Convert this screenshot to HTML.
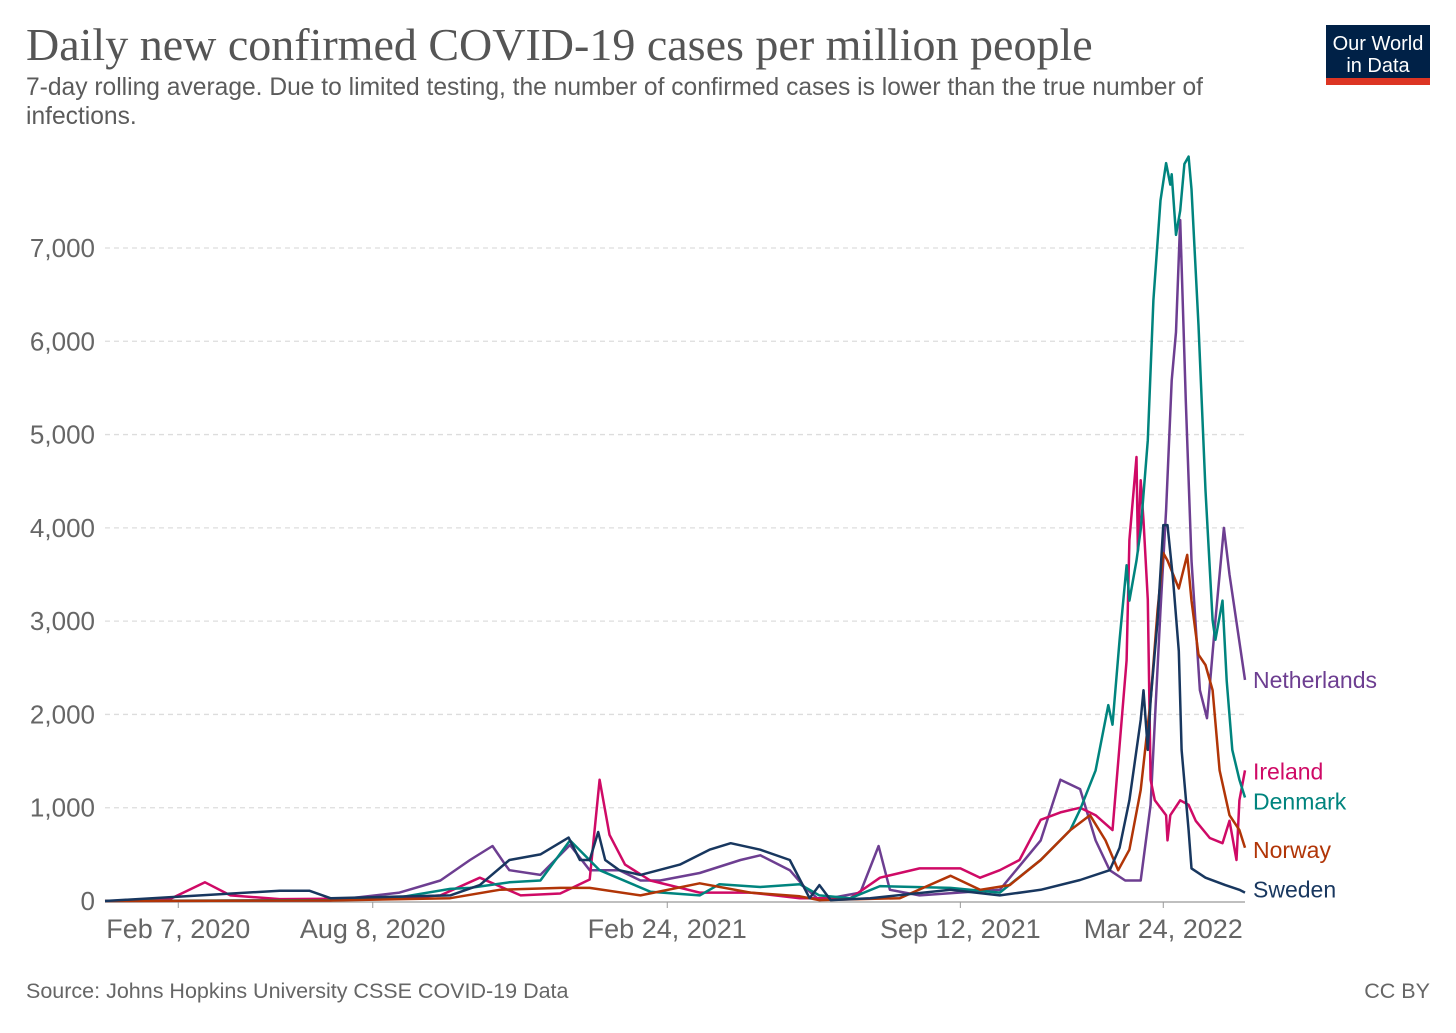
<!DOCTYPE html>
<html><head><meta charset="utf-8"><style>
body{margin:0;background:#fff;width:1456px;height:1028px;overflow:hidden;font-family:"Liberation Sans",sans-serif}
</style></head><body>
<svg width="1456" height="1028" viewBox="0 0 1456 1028" xmlns="http://www.w3.org/2000/svg">
<text x="26" y="60" font-family="Liberation Serif,serif" font-size="46" fill="#555">Daily new confirmed COVID-19 cases per million people</text>
<text x="26" y="95" font-size="24.6" fill="#5b5b5b">7-day rolling average. Due to limited testing, the number of confirmed cases is lower than the true number of</text>
<text x="26" y="124" font-size="24.6" fill="#5b5b5b">infections.</text>
<g>
<rect x="1326" y="25" width="104" height="60" fill="#002147"/>
<rect x="1326" y="78" width="104" height="7" fill="#dc3523"/>
<text x="1378" y="50" font-size="20" fill="#fff" text-anchor="middle">Our World</text>
<text x="1378" y="72" font-size="20" fill="#fff" text-anchor="middle">in Data</text>
</g>
<g id="grid"></g>
<g id="axes"></g>
<g id="series"></g>
<text x="26" y="998" font-size="21.5" fill="#666">Source: Johns Hopkins University CSSE COVID-19 Data</text>
<text x="1430" y="998" font-size="21.5" fill="#666" text-anchor="end">CC BY</text>
</svg>
<script>
const yTicks=[0,1000,2000,3000,4000,5000,6000,7000];
const yTickLabels=["0","1,000","2,000","3,000","4,000","5,000","6,000","7,000"];
const xTickDays=[52,190,399,607,751];
const xTickLabels=["Feb 7, 2020","Aug 8, 2020","Feb 24, 2021","Sep 12, 2021","Mar 24, 2022"];
const seriesNames=["Netherlands","Ireland","Denmark","Norway","Sweden"];
const netherlands=[[0,0],[160,5],[209,90],[238,220],[259,440],[275,590],[284,390],[287,330],[309,280],[330,600],[344,330],[365,330],[380,220],[394,220],[422,300],[451,440],[465,490],[486,330],[497,140],[507,10],[536,90],[549,590],[557,120],[578,60],[635,120],[664,650],[678,1300],[692,1200],[703,650],[713,330],[724,220],[735,220],[742,1030],[749,3120],[753,4190],[757,5580],[760,6100],[763,7300],[767,5360],[771,3650],[777,2260],[782,1960],[788,3010],[794,4000],[798,3500],[809,2370]];
const ireland=[[0,0],[46,20],[71,200],[89,60],[124,20],[209,30],[238,60],[266,250],[295,60],[323,80],[344,230],[351,1300],[358,710],[369,390],[387,220],[422,90],[458,90],[493,30],[529,30],[550,250],[578,350],[607,350],[621,250],[635,330],[649,440],[664,870],[678,950],[692,1000],[703,920],[715,760],[720,1670],[725,2580],[727,3870],[732,4760],[733,3750],[735,4510],[737,4080],[740,3230],[742,1300],[745,1080],[753,920],[754,650],[756,920],[763,1080],[769,1030],[774,860],[784,675],[793,620],[798,860],[803,440],[805,1080],[809,1400]];
const denmark=[[0,0],[160,10],[209,40],[245,130],[259,140],[287,200],[309,220],[330,650],[351,330],[387,100],[422,60],[436,180],[465,150],[493,180],[507,60],[529,30],[550,160],[600,140],[635,90],[664,440],[685,760],[692,980],[703,1400],[712,2100],[715,1890],[720,2800],[725,3600],[727,3220],[732,3650],[735,3980],[740,4940],[744,6440],[749,7510],[753,7910],[756,7680],[757,7790],[760,7140],[763,7400],[766,7900],[769,7980],[771,7630],[776,6170],[781,4400],[786,3010],[788,2800],[793,3220],[796,2360],[800,1620],[805,1300],[809,1110]];
const norway=[[0,0],[160,5],[245,30],[280,120],[323,140],[344,140],[380,60],[422,190],[458,90],[493,50],[507,10],[564,30],[600,270],[621,120],[642,170],[664,440],[685,760],[699,920],[710,650],[719,330],[727,550],[735,1190],[742,2150],[747,3120],[751,3730],[754,3650],[757,3540],[762,3350],[768,3710],[771,3220],[776,2640],[781,2530],[786,2260],[791,1400],[798,920],[805,760],[809,570]];
const sweden=[[0,0],[124,110],[145,110],[160,30],[245,60],[266,170],[287,440],[309,500],[329,680],[337,440],[344,440],[350,740],[355,440],[365,330],[380,280],[408,390],[429,550],[444,620],[465,550],[486,440],[500,30],[507,170],[515,10],[543,30],[600,120],[635,60],[664,120],[692,225],[713,330],[720,570],[727,1080],[735,1940],[737,2260],[740,1620],[742,2150],[747,3010],[751,4030],[754,4030],[758,3440],[762,2680],[764,1620],[769,760],[771,350],[781,250],[795,170],[805,120],[809,90]];
const allSeries=[netherlands,ireland,denmark,norway,sweden];
const colors=["#6D3E91","#CF0A66","#00847E","#B13507","#18375F"];
const labelYOffset=[0,1,4,2,-3];

const X0=105,X1=1245,Y0=901,Y7=248,DMAX=809;
const xs=d=>X0+(d/DMAX)*(X1-X0);
const ys=v=>Y0-(v/7000)*(Y0-Y7);
const NS="http://www.w3.org/2000/svg";
const grid=document.getElementById('grid'),axes=document.getElementById('axes'),ser=document.getElementById('series');
function mk(tag,attrs,parent){const e=document.createElementNS(NS,tag);for(const k in attrs)e.setAttribute(k,attrs[k]);parent.appendChild(e);return e;}
yTicks.forEach((t,i)=>{
  if(t>0){const l=mk('line',{x1:X0,x2:X1,y1:ys(t),y2:ys(t),stroke:'#ddd','stroke-dasharray':'5,4','stroke-width':1.3},grid);
  
  }
  const tx=mk('text',{x:95,y:ys(t)+9,'text-anchor':'end','font-size':26,fill:'#666'},axes);
  tx.textContent=yTickLabels[i];
  
  
});
const ax=mk('line',{x1:X0,x2:X1,y1:Y0+1,y2:Y0+1,stroke:'#999','stroke-width':1.3},axes);


xTickDays.forEach((d,i)=>{
  const tk=mk('line',{x1:xs(d),x2:xs(d),y1:Y0+1,y2:Y0+7,stroke:'#999'},axes);
  
  
  const tx=mk('text',{x:xs(d),y:938,'text-anchor':'middle','font-size':27,fill:'#666'},axes);
  tx.textContent=xTickLabels[i];
  
  
});
allSeries.forEach((s,i)=>{
  const p=mk('polyline',{points:s.map(q=>xs(q[0]).toFixed(1)+','+ys(q[1]).toFixed(1)).join(' '),fill:'none',stroke:colors[i],'stroke-width':2.5,'stroke-linejoin':'round'},ser);
  
  
  const last=s[s.length-1];
  const t=mk('text',{x:1253,y:ys(last[1])+8+labelYOffset[i],'font-size':23,fill:colors[i]},ser);
  t.textContent=seriesNames[i];
  
  
});
</script>
</body></html>
